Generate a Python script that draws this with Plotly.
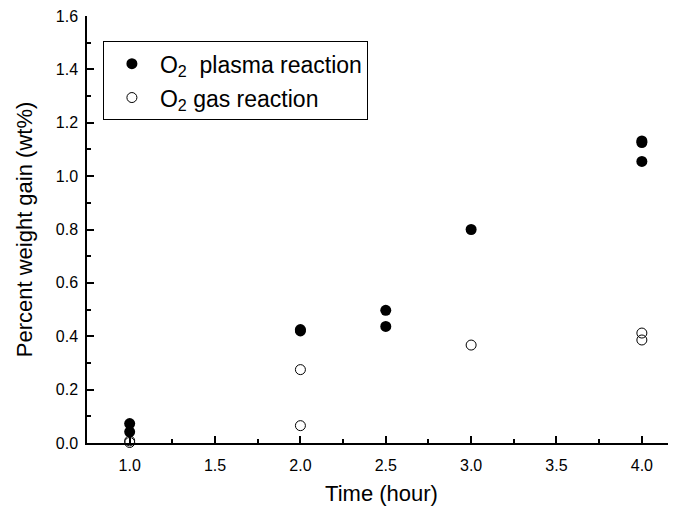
import plotly.graph_objects as go

# Data
plasma_time = [1.0, 1.0, 2.0, 2.0, 2.5, 2.5, 3.0, 4.0, 4.0, 4.0]
plasma_gain = [0.073, 0.042, 0.425, 0.42, 0.497, 0.437, 0.80, 1.132, 1.126, 1.055]

gas_time = [1.0, 1.0, 2.0, 2.0, 3.0, 4.0, 4.0]
gas_gain = [0.008, 0.002, 0.275, 0.065, 0.367, 0.412, 0.386]

x_ticks = [1.0, 1.5, 2.0, 2.5, 3.0, 3.5, 4.0]
y_ticks = [0.0, 0.2, 0.4, 0.6, 0.8, 1.0, 1.2, 1.4, 1.6]

FONT = "Liberation Sans, Arial, sans-serif"

fig = go.Figure()
fig.add_trace(go.Scatter(
    x=gas_time, y=gas_gain, mode="markers", name="O<sub>2</sub> gas reaction",
    legendgroup="g", legendrank=2, cliponaxis=False,
    marker=dict(symbol="circle-open", size=10, color="black", line=dict(width=1, color="black")),
))
fig.add_trace(go.Scatter(
    x=plasma_time, y=plasma_gain, mode="markers", name="O<sub>2</sub>  plasma reaction",
    legendgroup="p", legendrank=1, cliponaxis=False,
    marker=dict(symbol="circle", size=11, color="black"),
))

fig.update_layout(
    width=668, height=504,
    margin=dict(l=79, r=0, t=8, b=69),
    paper_bgcolor="white", plot_bgcolor="white",
    font=dict(family=FONT, size=16, color="black"),
    showlegend=True,
    legend=dict(
        x=0.027, y=0.941, xanchor="left", yanchor="top",
        bordercolor="black", borderwidth=1, bgcolor="white",
        font=dict(family=FONT, size=23, color="black"),
        tracegroupgap=1, itemwidth=46,
    ),
    xaxis=dict(
        range=[0.75, 4.2], tickvals=x_ticks, ticktext=[f"{v:.1f}" for v in x_ticks],
        ticks="inside", ticklen=7, tickwidth=1.5, tickcolor="black",
        minor=dict(ticks="inside", ticklen=4, tickwidth=1.5, tickcolor="black", dtick=0.25, tick0=0.75),
        showline=True, linecolor="black", linewidth=1.5, mirror=False,
        showgrid=False, zeroline=False, automargin=False,
        ticklabelstandoff=7, ticklabeloverflow="allow",
        title=dict(text="Time (hour)", font=dict(size=22), standoff=13),
        tickfont=dict(size=16),
    ),
    yaxis=dict(
        range=[0, 1.6], tickvals=y_ticks, ticktext=[f"{v:.1f}" for v in y_ticks],
        ticks="inside", ticklen=7, tickwidth=1.5, tickcolor="black",
        minor=dict(ticks="inside", ticklen=4, tickwidth=1.5, tickcolor="black", dtick=0.1, tick0=0),
        showline=True, linecolor="black", linewidth=1.5, mirror=False,
        showgrid=False, zeroline=False, automargin=False,
        ticklabelstandoff=4, ticklabeloverflow="allow",
        title=dict(text="Percent weight gain (wt%)", font=dict(size=22), standoff=17),
        tickfont=dict(size=16),
    ),
)

fig.write_html("out.html")
